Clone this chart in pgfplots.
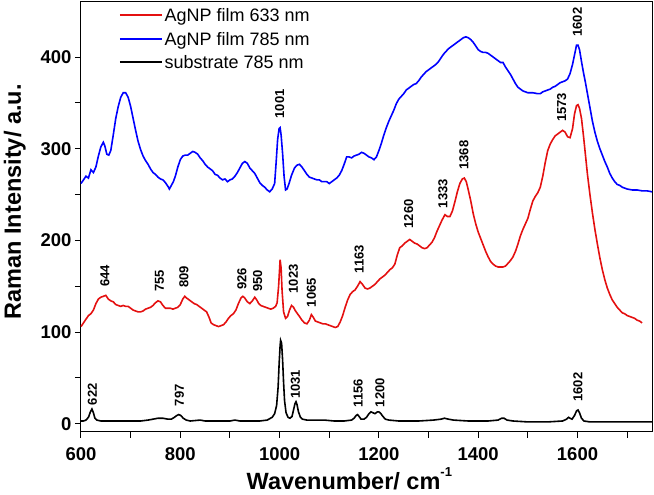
\documentclass[border=0pt]{standalone}
\usepackage{fontspec}
\setmainfont{Liberation Sans}
\usepackage{pgfplots}
\pgfplotsset{compat=1.18}
\definecolor{myred}{RGB}{228,16,16}
\definecolor{myblue}{RGB}{0,0,255}

\pgfplotstableread{
x y
600 262
605 266
610 270
615 268
620 277
625 274
630 280
635 292
640 302
645 307
648 303
652 294
656 293
660 298
665 315
670 333
675 346
680 356
685 361
690 361
695 356
700 346
705 333
710 320
715 308
720 299
725 292
730 287
735 283
740 278
745 274
750 272
755 269
760 267
765 266
770 263
775 259
778 256
782 260
786 264
790 270
795 280
800 288
805 292
810 293
815 293
820 295
825 297
830 296
835 294
840 290
845 287
850 283
855 280
860 278
865 276
870 272
875 271
880 268
885 266
890 267
895 264
900 266
905 267
910 270
915 274
920 279
925 284
930 286
935 284
940 279
945 276
950 273
955 268
960 263
965 260
970 258
975 255
980 253
985 256
990 262
993 285
996 310
999 322
1001 323
1003 315
1006 295
1009 270
1012 255
1015 256
1019 262
1024 271
1030 279
1035 282
1040 283
1045 280
1050 276
1055 272
1060 269
1065 268
1070 267
1075 266
1080 266
1085 264
1090 264
1095 264
1100 262
1105 264
1110 266
1115 268
1120 271
1125 276
1130 283
1135 291
1140 291
1145 290
1150 292
1155 293
1160 294
1165 296
1170 295
1175 293
1180 291
1185 290
1190 288
1195 291
1200 298
1205 306
1210 315
1215 323
1220 330
1225 336
1230 342
1235 349
1240 354
1245 357
1250 360
1255 364
1260 366
1265 368
1270 370
1275 371
1280 374
1285 378
1290 381
1295 384
1300 386
1305 388
1310 390
1315 392
1320 395
1325 399
1330 403
1335 406
1340 409
1345 411
1350 413
1355 415
1360 417
1365 419
1370 421
1375 422
1380 421
1385 419
1390 416
1395 412
1400 408
1405 406
1410 405
1415 405
1420 404
1425 402
1430 400
1435 398
1440 396
1445 394
1450 394
1455 389
1460 385
1465 381
1470 376
1475 371
1480 367
1485 365
1490 363
1495 362
1500 361
1510 361
1520 360
1525 360
1530 362
1535 363
1540 364
1545 365
1550 367
1555 368
1560 370
1565 372
1570 373
1575 374
1580 376
1585 382
1590 392
1595 405
1598 413
1601 413
1604 408
1608 395
1612 383
1616 372
1620 360
1625 345
1630 330
1635 318
1640 308
1645 300
1650 293
1655 286
1660 280
1665 273
1670 268
1675 264
1680 261
1685 260
1690 258
1695 257
1700 256
1710 255
1720 255
1730 254
1740 254
1750 253
}\bluedata

\pgfplotstableread{
x y
600 106
605 110
610 114
615 118
620 120
625 124
630 131
635 136
640 138
645 139
650 140
655 136
660 134
665 133
670 130
675 129
680 128
685 129
690 128
695 128
700 126
705 124
710 123
715 122
720 122
725 123
730 125
735 126
740 127
745 129
750 132
755 134
760 133
765 129
770 126
775 126
780 126
785 125
790 126
795 127
800 130
805 136
809 139
813 137
818 135
823 133
828 131
833 130
838 128
843 126
848 124
853 122
858 116
862 110
867 108
872 107
877 106
882 107
887 108
892 111
897 115
902 118
907 120
912 124
917 131
922 137
926 139
930 137
935 133
940 131
945 134
950 138
954 135
958 131
962 129
967 128
972 127
977 126
982 125
987 126
992 128
995 132
998 150
1001 179
1003 170
1005 145
1008 122
1012 115
1016 117
1020 124
1024 129
1028 127
1032 123
1036 120
1040 117
1045 113
1050 110
1055 109
1060 113
1064 119
1068 116
1072 112
1077 111
1082 110
1087 109
1092 109
1097 108
1102 107
1107 106
1112 105
1117 106
1122 111
1127 118
1132 127
1137 135
1142 141
1147 144
1152 146
1157 150
1162 155
1167 152
1172 148
1177 147
1182 148
1187 150
1192 152
1197 155
1202 158
1207 160
1212 162
1217 165
1222 168
1227 170
1232 174
1237 184
1242 192
1247 194
1252 197
1257 199
1262 201
1267 199
1272 197
1277 196
1282 194
1287 192
1292 191
1297 192
1302 195
1307 198
1312 203
1317 210
1322 216
1327 222
1333 228
1338 226
1343 226
1348 232
1353 242
1358 253
1363 262
1368 267
1372 268
1376 264
1380 255
1385 243
1390 229
1395 218
1400 209
1405 202
1410 195
1415 188
1420 182
1425 177
1430 174
1435 172
1440 171
1445 171
1450 171
1455 172
1460 175
1465 178
1470 182
1475 188
1480 196
1485 205
1490 212
1495 218
1500 224
1505 234
1510 243
1515 248
1520 252
1525 258
1530 270
1535 285
1540 298
1545 305
1550 310
1555 314
1560 316
1565 318
1570 320
1575 318
1580 313
1585 312
1590 322
1594 338
1598 347
1601 348
1604 344
1608 333
1612 314
1616 293
1620 272
1625 250
1630 230
1635 212
1640 196
1645 181
1650 168
1655 157
1660 148
1665 141
1670 135
1675 131
1680 127
1685 124
1690 121
1695 120
1700 118
1705 117
1710 116
1715 115
1720 113
1725 112
1730 110
}\reddata

\pgfplotstableread{
x y
600 3
605 3
610 4
615 7
619 13
622 16
625 12
628 6
632 4
640 3
660 3
680 3
700 3
720 3
735 4
745 5
755 6
765 6
775 5
782 5
788 7
793 9
797 10
801 9
806 6
812 4
820 3
840 4
850 3
880 3
900 3
910 4
920 3
940 3
960 3
975 4
985 7
990 11
994 20
997 40
999 65
1001 85
1002 91
1004 88
1006 70
1008 45
1010 25
1013 12
1017 7
1021 6
1025 8
1028 15
1031 22
1033 24
1035 21
1038 13
1042 7
1046 5
1055 4
1070 4
1090 4
1110 3
1130 3
1145 4
1150 6
1154 9
1157 10
1160 8
1164 5
1170 5
1175 7
1180 11
1184 13
1188 12
1192 11
1197 13
1200 13
1204 11
1208 8
1213 5
1220 4
1240 3
1280 3
1310 4
1325 5
1332 6
1340 5
1350 4
1380 3
1420 3
1440 4
1447 6
1452 6
1458 4
1470 3
1500 2
1540 2
1570 3
1578 5
1582 7
1585 6
1589 5
1594 9
1598 14
1601 15
1604 12
1608 6
1613 3
1625 2
1680 2
1750 2
}\blackdata

\begin{document}
\begin{tikzpicture}
\begin{axis}[
  scale only axis, width=571pt, height=430pt,
  xmin=600, xmax=1750, ymin=-9, ymax=460,
  xtick={600,800,...,1600}, minor xtick={700,900,...,1700},
  ytick={0,100,...,400}, minor ytick={50,150,...,350},
  tick align=outside, xtick pos=left, ytick pos=left,
  major tick length=6pt, minor tick length=6pt,
  every tick/.style={black, line width=1pt},
  axis line style={line width=1pt},
  /pgf/number format/assume math mode=true,
  /pgf/number format/1000 sep={},
  ticklabel style={font=\fontsize{18.5}{20}\selectfont\bfseries},
  xticklabel style={yshift=-6pt},
  xlabel={Wavenumber/ cm\raisebox{0.55em}{\fontsize{13}{13}\selectfont -1}},
  ylabel={Raman Intensity/ a.u.},
  label style={font=\fontsize{23.5}{26}\selectfont\bfseries},
  xlabel style={at={(ticklabel cs:0.47)}},
  ylabel style={at={(ticklabel cs:0.535)}},
  xlabel shift=0pt,
  ylabel shift=8pt,
  legend style={draw=none, fill=none, at={(rel axis cs:0.066,0.99)}, anchor=north west,
    font=\fontsize{18}{20}\selectfont, row sep=5pt, inner sep=0pt},
  legend cell align=left,
  legend image code/.code={\draw[#1, line width=1.8pt, line cap=butt] (0pt,0.5pt) -- (42pt,0.5pt);},
  every axis plot/.append style={line width=1.6pt},
  clip=false,
]
\addplot[myred] table {\reddata};
\addlegendentry{AgNP film 633 nm}
\addplot[myblue] table {\bluedata};
\addlegendentry{AgNP film 785 nm}
\addplot[black] table {\blackdata};
\addlegendentry{substrate 785 nm}

\coordinate (O) at (rel axis cs:0,0);

\tikzset{pk/.style={rotate=90, anchor=west, inner sep=0pt, font=\fontsize{13}{14}\selectfont\bfseries}}
\node[pk] at (axis cs:648,149) {644};
\node[pk] at (axis cs:758,144) {755};
\node[pk] at (axis cs:807,148) {809};
\node[pk] at (axis cs:924,146) {926};
\node[pk] at (axis cs:956,144) {950};
\node[pk] at (axis cs:1028,142) {1023};
\node[pk] at (axis cs:1064,127) {1065};
\node[pk] at (axis cs:1160,164) {1163};
\node[pk] at (axis cs:1260,213) {1260};
\node[pk] at (axis cs:1329,235) {1333};
\node[pk] at (axis cs:1371,277) {1368};
\node[pk] at (axis cs:1568,329) {1573};
\node[pk] at (axis cs:1600,422) {1602};
\node[pk] at (axis cs:1000,333) {1001};
\node[pk] at (axis cs:623,20) {622};
\node[pk] at (axis cs:798,19) {797};
\node[pk] at (axis cs:1032,27) {1031};
\node[pk] at (axis cs:1158,18) {1156};
\node[pk] at (axis cs:1202,18) {1200};
\node[pk] at (axis cs:1601,24) {1602};
\end{axis}
\pgfresetboundingbox
\path (O) ++(-81pt,-63pt) rectangle ++(654pt,495pt);
\end{tikzpicture}
\end{document}
